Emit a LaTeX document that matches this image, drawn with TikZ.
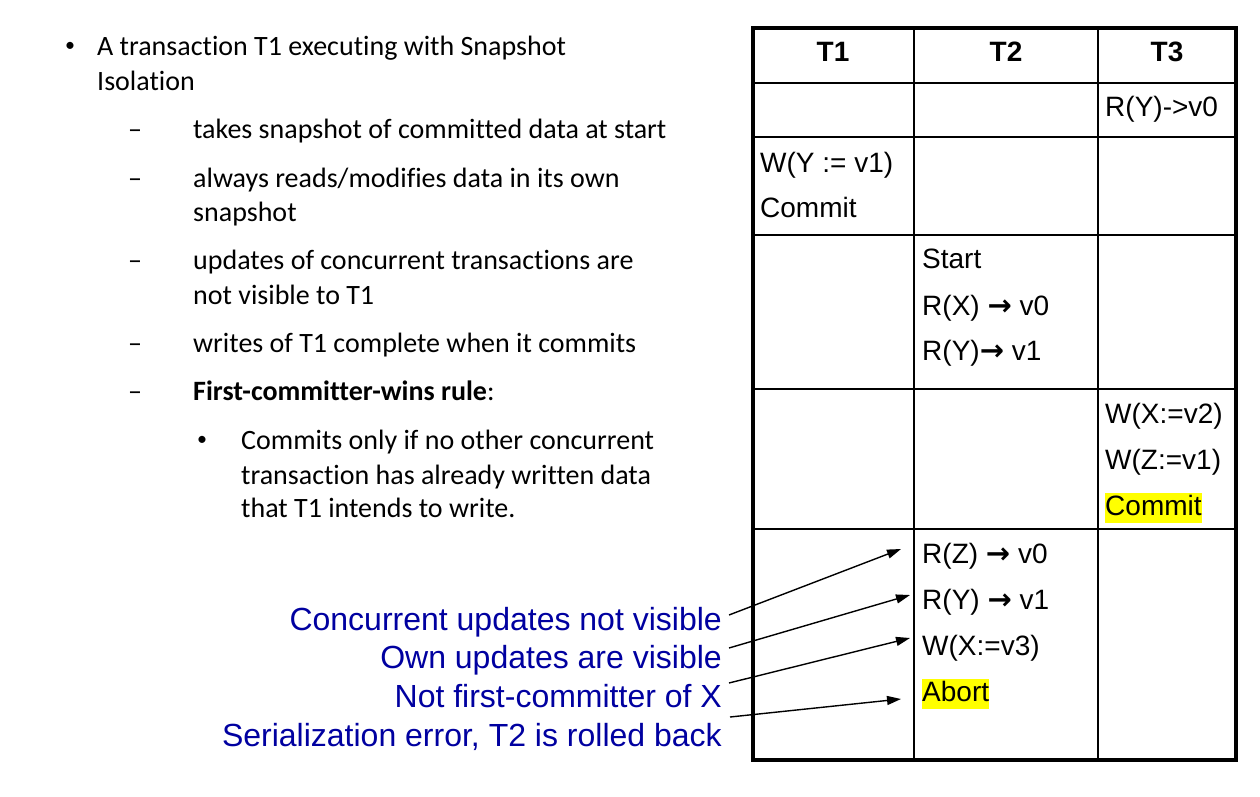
\documentclass[tikz,border=0pt]{standalone}
\usepackage{fontspec}
\setmainfont{Liberation Sans}
\newfontfamily\calib[Ligatures=NoCommon]{Carlito}
\newfontfamily\dvs{DejaVu Sans}
\usetikzlibrary{arrows.meta}
\definecolor{lblblue}{RGB}{0,0,160}
\definecolor{hlyellow}{RGB}{255,255,0}
\newcommand{\rarr}{{\dvs\bfseries\fontsize{29}{29}\selectfont →}}
\begin{document}
\begin{tikzpicture}[x=1pt,y=-1pt,
  cell/.style={anchor=base west, inner sep=0pt, font=\fontsize{28}{30}\selectfont},
  hdr/.style={anchor=base, inner sep=0pt, font=\fontsize{28}{30}\selectfont\bfseries},
  hl/.style={cell, fill=hlyellow, text height=22pt, text depth=8pt},
  lbl/.style={anchor=base east, inner sep=0pt, text=lblblue, font=\fontsize{32}{34}\selectfont},
  body/.style={anchor=base west, inner sep=0pt, font=\calib\fontsize{28}{30}\selectfont},
  dot/.style={anchor=base west, inner sep=0pt, font=\calib\fontsize{20}{22}\selectfont},
  arr/.style={-{Triangle[length=14pt,width=9pt]}, line width=1.4pt},
  inner line/.style={line width=2pt},
  outer line/.style={line width=3.5pt}]
\useasboundingbox (0,0) rectangle (1260,797);

% ---- left bullet text ----
\node[dot] (b0) at (65,52) {•};
\node[body] (t0) at (97,56) {A transaction T1 executing with Snapshot};
\node[body] (t0b) at (97,91) {Isolation};
\node[body] (d1) at (128,139) {–};
\node[body] (t1) at (193,139) {takes snapshot of committed data at start};
\node[body] (d2) at (128,187) {–};
\node[body] (t2) at (193,187) {always reads/modifies data in its own};
\node[body] (t2b) at (193,221) {snapshot};
\node[body] (d3) at (128,269) {–};
\node[body] (t3) at (193,269) {updates of concurrent transactions are};
\node[body] (t3b) at (193,304) {not visible to T1};
\node[body] (d4) at (128,352) {–};
\node[body] (t4) at (193,352) {writes of T1 complete when it commits};
\node[body] (d5) at (128,400) {–};
\node[body] (t5) at (193,400) {\textbf{First-committer-wins rule}:};
\node[dot] (b1) at (197,445) {•};
\node[body] (t6) at (241,449) {Commits only if no other concurrent};
\node[body] (t6b) at (241,484) {transaction has already written data};
\node[body] (t6c) at (241,517) {that T1 intends to write.};

% ---- table grid ----
\draw[inner line] (753,83) -- (1236,83);
\draw[inner line] (753,137) -- (1236,137);
\draw[inner line] (753,235) -- (1236,235);
\draw[inner line] (753,389) -- (1236,389);
\draw[inner line] (753,529) -- (1236,529);
\draw[inner line] (914,28) -- (914,760);
\draw[inner line] (1098,28) -- (1098,760);
\draw[outer line] (753,28) rectangle (1236,760);

% ---- table contents ----
\node[hdr] (h1) at (833,62) {T1};
\node[hdr] (h2) at (1006,62) {T2};
\node[hdr] (h3) at (1167,62) {T3};

\node[cell] (c3a) at (1105,117) {R(Y)->v0};

\node[cell] (c1a) at (760,172) {W(Y := v1)};
\node[cell] (c1b) at (760,217) {Commit};

\node[cell] (c2a) at (922,268) {Start};
\node[cell] (c2b) at (922,315) {R(X) \rarr\ v0};
\node[cell] (c2c) at (922,360) {R(Y)\rarr\ v1};

\node[cell] (c3b) at (1105,423) {W(X:=v2)};
\node[cell] (c3c) at (1105,469) {W(Z:=v1)};
\node[hl]   (c3d) at (1105,515) {Commit};

\node[cell] (rz) at (922,563) {R(Z) \rarr\ v0};
\node[cell] (ry) at (922,609) {R(Y) \rarr\ v1};
\node[cell] (wx) at (922,655) {W(X:=v3)};
\node[hl]   (ab) at (922,701) {Abort};

% ---- blue labels ----
\node[lbl] (l1) at (722,630) {Concurrent updates not visible};
\node[lbl] (l2) at (722,668) {Own updates are visible};
\node[lbl] (l3) at (722,707) {Not first-committer of X};
\node[lbl] (l4) at (722,746) {Serialization error, T2 is rolled back};

% ---- arrows ----
\draw[arr] ([shift={(7,-15)}]l1.base east) -- ([shift={(-21,-14)}]rz.base west);
\draw[arr] ([shift={(7,-20)}]l2.base east) -- ([shift={(-12,-14)}]ry.base west);
\draw[arr] ([shift={(7,-24)}]l3.base east) -- ([shift={(-12,-17)}]wx.base west);
\draw[arr] ([shift={(8,-29)}]l4.base east) -- ([shift={(-21,-2)}]ab.base west);
\end{tikzpicture}
\end{document}
